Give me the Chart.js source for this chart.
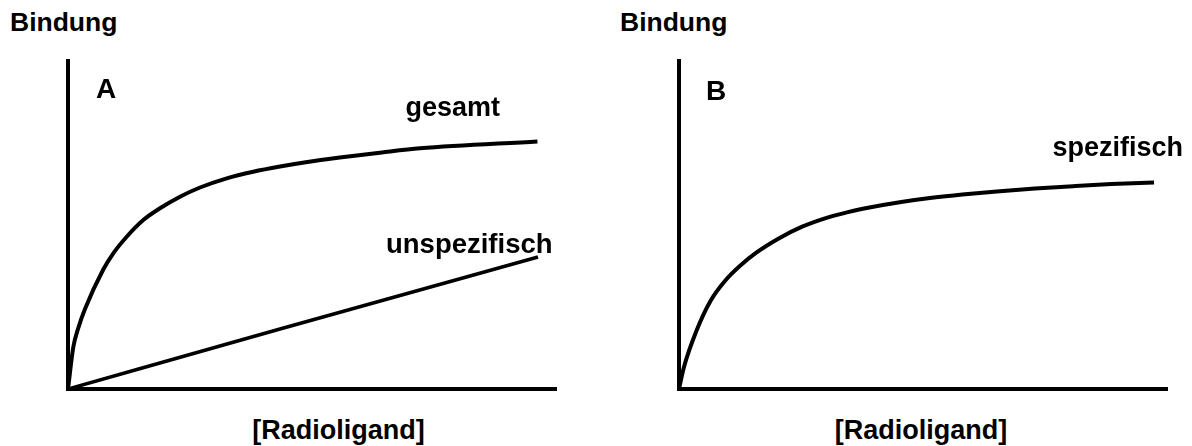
<!DOCTYPE html>
<html>
<head>
<meta charset="utf-8">
<script src="https://cdn.jsdelivr.net/npm/chart.js@4.4.0/dist/chart.umd.min.js"></script>
<style>
  html, body { margin: 0; padding: 0; background: #fff; }
  body { width: 1192px; height: 446px; position: relative; overflow: hidden;
         font-family: "Liberation Sans", Arial, sans-serif; }
  .lbl { position: absolute; font-weight: bold; font-size: 27px; line-height: 1; color: #000; white-space: nowrap; }
  .big { font-size: 28px; }
  canvas { position: absolute; }
</style>
</head>
<body>
<canvas id="chartA" width="528" height="368" style="left:48px;top:41px;width:528px;height:368px"></canvas>
<canvas id="chartB" width="528" height="368" style="left:659px;top:41px;width:528px;height:368px"></canvas>

<div class="lbl" style="left:10px;top:9px;font-size:26.5px">Bindung</div>
<div class="lbl" style="left:620px;top:9px;font-size:26.5px">Bindung</div>
<div class="lbl big" style="left:96px;top:75px">A</div>
<div class="lbl big" style="left:706px;top:77px">B</div>
<div class="lbl" style="left:405.5px;top:94px">gesamt</div>
<div class="lbl" style="left:386px;top:230px;font-size:27.5px">unspezifisch</div>
<div class="lbl" style="left:1052.5px;top:134px">spezifisch</div>
<div class="lbl" style="left:238.5px;top:417px;width:200px;text-align:center">[Radioligand]</div>
<div class="lbl" style="left:821px;top:417px;width:200px;text-align:center">[Radioligand]</div>

<script>
// Panel A: total binding (gesamt); x = radioligand concentration (arbitrary units 0-100)
const gesamtX = [0, 1.09, 2.11, 3.48, 7.23, 9.28, 12.03, 15.43, 18.85, 22.95, 27.05, 32.52, 37.97, 43.44, 48.71, 56.56, 64.34, 72.13, 96.2];
const gesamtY = [0, 12.80, 18.60, 24.39, 36.43, 41.37, 46.43, 51.52, 55.09, 58.63, 61.43, 64.24, 66.25, 67.84, 69.15, 70.73, 72.13, 73.38, 75.46];

// Panel A: non-specific binding (unspezifisch)
const unspezX = [0, 43.44, 96.31];
const unspezY = [0, 18.3, 40.24];

// Panel B: specific binding (spezifisch)
const spezX = [0, 1.02, 3.48, 6.45, 9.59, 12.70, 15.84, 20.53, 25.23, 29.92, 34.61, 39.30, 45.55, 51.82, 58.07, 65.12, 72.93, 80.76, 88.59, 97.34];
const spezY = [0, 6.71, 17.38, 26.83, 33.23, 37.80, 41.55, 45.95, 49.48, 52.04, 53.93, 55.40, 57.01, 58.29, 59.30, 60.24, 61.10, 61.83, 62.47, 62.96];

const axisMin = 0, axisMax = 100;

function pts(xs, ys) { return xs.map((x, i) => ({ x: x, y: ys[i] })); }

function lineDs(xs, ys, w) {
  return {
    data: pts(xs, ys),
    borderColor: '#000',
    borderWidth: w,
    pointRadius: 0,
    fill: false,
    cubicInterpolationMode: 'monotone',
    borderCapStyle: 'butt',
    borderJoinStyle: 'round'
  };
}

function makeChart(id, datasets) {
  return new Chart(document.getElementById(id), {
    type: 'line',
    data: { datasets: datasets },
    options: {
      responsive: false,
      animation: false,
      layout: { padding: 20 },
      plugins: { legend: { display: false }, tooltip: { enabled: false }, title: { display: false } },
      scales: {
        x: {
          type: 'linear', min: axisMin, max: axisMax,
          ticks: { display: false },
          grid: { display: false, drawTicks: false },
          border: { display: true, color: '#000', width: 4 },
          afterFit: (s) => { s.height = 0; }
        },
        y: {
          type: 'linear', min: axisMin, max: axisMax,
          ticks: { display: false },
          grid: { display: false, drawTicks: false },
          border: { display: true, color: '#000', width: 4 },
          afterFit: (s) => { s.width = 0; }
        }
      }
    }
  });
}

makeChart('chartA', [lineDs(gesamtX, gesamtY, 4), lineDs(unspezX, unspezY, 3.5)]);
makeChart('chartB', [lineDs(spezX, spezY, 4)]);
</script>
</body>
</html>
